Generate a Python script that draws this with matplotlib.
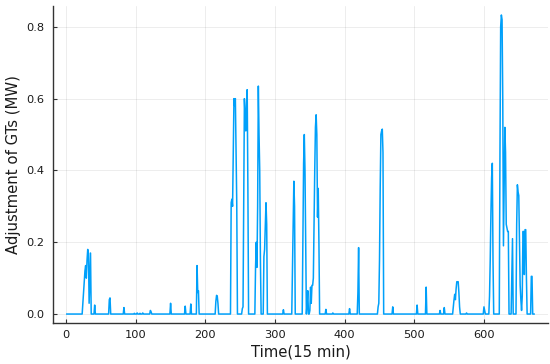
import matplotlib
matplotlib.use('Agg')
import matplotlib.pyplot as plt
import numpy as np

# time steps (15 min), one week
n_steps = 672
# non-zero samples: step index and adjustment (MW)
t_nz = [24, 25, 26, 27, 28, 29, 30, 31, 32, 33, 34, 35, 41,
        62, 63, 83, 98, 102, 106, 110, 121, 122, 150, 171, 179,
        188, 189, 190, 215, 216, 217, 218,
        237, 238, 239, 240, 241, 242, 243, 244, 245,
        253, 254, 255, 256, 257, 258, 259, 260, 261,
        272, 273, 274, 275, 276, 277, 278, 279,
        284, 285, 286, 287, 288, 312,
        325, 326, 327, 328,
        340, 341, 342, 343, 344,
        346, 347, 350, 351, 352, 353, 354, 355, 356, 357, 358, 359, 360, 361, 362, 363,
        373, 383, 407, 419, 420,
        448, 449, 450, 451, 452, 453, 454, 455,
        469, 504, 517, 537, 543,
        556, 557, 558, 559, 560, 561, 562, 563, 564, 565,
        575, 600, 601,
        608, 609, 610, 611, 612, 613,
        623, 624, 625, 626, 627, 628, 629, 630, 631, 632, 633, 634, 635,
        640, 641,
        647, 648, 649, 650, 651, 652, 653, 654, 655, 656, 657, 658, 659, 660, 661,
        668, 669]
v_nz = [0.03, 0.06, 0.09, 0.12, 0.135, 0.10, 0.15, 0.18, 0.17, 0.03, 0.10, 0.17, 0.025,
        0.04, 0.045, 0.018, 0.002, 0.003, 0.002, 0.003, 0.01, 0.006, 0.03, 0.022, 0.028,
        0.135, 0.06, 0.065, 0.035, 0.052, 0.05, 0.03,
        0.31, 0.32, 0.30, 0.45, 0.60, 0.58, 0.60, 0.45, 0.31,
        0.015, 0.02, 0.30, 0.60, 0.55, 0.51, 0.58, 0.625, 0.35,
        0.13, 0.20, 0.13, 0.30, 0.635, 0.50, 0.40, 0.15,
        0.16, 0.18, 0.25, 0.31, 0.25, 0.012,
        0.12, 0.25, 0.37, 0.30,
        0.20, 0.42, 0.50, 0.40, 0.20,
        0.03, 0.065, 0.01, 0.075, 0.03, 0.08, 0.08, 0.10, 0.25, 0.40, 0.52, 0.555, 0.50, 0.27, 0.35, 0.20,
        0.013, 0.003, 0.015, 0.06, 0.185,
        0.02, 0.03, 0.15, 0.35, 0.50, 0.51, 0.515, 0.45,
        0.02, 0.025, 0.075, 0.01, 0.018,
        0.02, 0.04, 0.055, 0.04, 0.07, 0.09, 0.09, 0.09, 0.06, 0.02,
        0.003, 0.02, 0.01,
        0.05, 0.15, 0.28, 0.38, 0.42, 0.15,
        0.45, 0.80, 0.833, 0.82, 0.60, 0.19, 0.35, 0.52, 0.45, 0.25, 0.24, 0.23, 0.23,
        0.10, 0.21,
        0.25, 0.36, 0.34, 0.33, 0.20, 0.08, 0.04, 0.01, 0.05, 0.23, 0.23, 0.11, 0.235, 0.235, 0.10,
        0.105, 0.105]

steps = np.arange(1, n_steps + 1)
adjust = np.zeros(n_steps)
adjust[np.array(t_nz) - 1] = v_nz

fig = plt.figure(figsize=(5.5, 3.64), dpi=100)
ax = fig.add_axes([0.0962, 0.1126, 0.9002, 0.8709])

ax.plot(steps, adjust, color='#00A0FA', lw=1.1, zorder=3)

ax.set_xlim(-19, 692)
ax.set_ylim(-0.025, 0.858)
ax.set_xticks([0, 100, 200, 300, 400, 500, 600])
ax.set_yticks([0.0, 0.2, 0.4, 0.6, 0.8])
ax.set_yticklabels(['0.0', '0.2', '0.4', '0.6', '0.8'])

ax.grid(True, color='black', alpha=0.1, lw=0.5)
for s in ['top', 'right']:
    ax.spines[s].set_visible(False)
for s in ['left', 'bottom']:
    ax.spines[s].set_color('#333333')
    ax.spines[s].set_linewidth(1.0)
ax.tick_params(direction='in', length=3, width=0.8, color='#333333',
               labelsize=8.2, labelcolor='#1a1a1a')
ax.tick_params(axis='x', pad=5)
ax.tick_params(axis='y', pad=6)

ax.set_xlabel('Time(15 min)', fontsize=10.7, color='#1a1a1a', labelpad=3)
ax.set_ylabel('Adjustment of GTs (MW)', fontsize=10.7, color='#1a1a1a', labelpad=4)

fig.savefig('out.png', dpi=100, facecolor='white')
